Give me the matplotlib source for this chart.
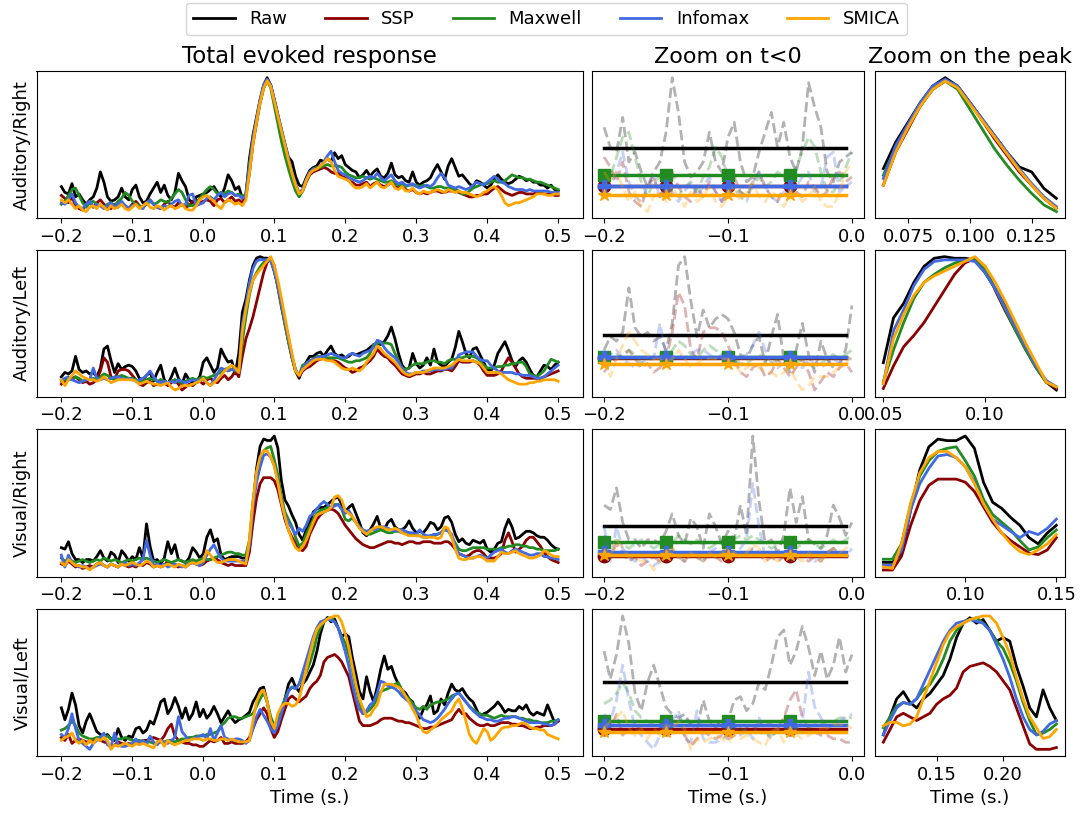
import numpy as np
import matplotlib
matplotlib.use("Agg")
import matplotlib.pyplot as plt

# ── 1. Data ───────────────────────────────────────────────
methods = ["Raw", "SSP", "Maxwell", "Infomax", "SMICA"]
colors = ["black", "darkred", "forestgreen", "royalblue", "orange"]
markers = [None, "o", "s", "P", "*"]
conditions = ["Auditory/Right", "Auditory/Left", "Visual/Right", "Visual/Left"]

T_START, T_STEP = -0.2, 0.005  # sampling of the evoked traces (s)

# Auditory/Right
ar_raw = [21,17,16,23,14,16,12,9,12,14, 20,31,24,14,11,12,14,20,14,12,
          19,22,14,10,11,16,20,24,17,22, 15,12,17,30,25,21,12,10,14,15,
          16,17,19,21,17,14,20,29,25,19, 21,13,15,40,56,68,80,90,95,90,
          80,70,60,50,41,38,28,22,21,27, 32,34,35,39,38,40,38,44,40,42,
          36,34,32,31,27,29,32,28,31,33, 28,27,30,37,29,27,28,25,24,31,
          24,22,24,25,27,32,36,31,26,35, 40,34,28,29,26,23,21,25,24,22,
          20,22,26,29,26,24,23,24,26,28, 27,25,26,24,24,22,22,20,22,19, 18]
ar_ssp = [15,13,10,14,8,6,5,9,11,7, 10,12,9,7,6,9,7,10,8,6,
          9,11,8,7,10,12,9,7,6,9, 11,8,7,10,9,7,8,11,12,10,
          11,12,11,8,12,13,10,12,14,11, 12,10,14,30,50,64,78,88,93,90,
          80,69,58,48,38,30,22,16,18,24, 29,31,32,33,34,33,31,30,30,28,
          27,25,24,22,22,23,24,21,23,24, 22,21,22,24,21,20,22,19,18,19,
          17,16,17,16,17,18,18,17,17,18, 18,18,17,16,15,14,14,15,15,16,
          16,18,20,21,19,17,16,15,16,17, 17,16,16,16,17,17,16,16,16,15, 15]
ar_maxwell = [9,11,15,19,20,15,10,7,10,11, 9,8,7,9,10,8,11,13,17,15,
              11,9,8,7,9,11,9,10,12,11, 10,13,16,19,17,12,8,8,10,13,
              16,19,21,19,16,17,16,18,17,15, 16,14,16,36,53,66,78,88,93,88,
              76,64,52,42,33,25,18,14,18,25, 30,33,34,34,35,36,35,35,35,34,
              31,29,28,27,27,28,27,26,27,26, 25,24,24,25,23,22,22,21,22,22,
              22,21,22,21,20,20,21,21,20,20, 20,19,18,16,16,18,20,21,22,23,
              23,24,25,24,24,25,27,29,28,27, 27,26,26,25,24,24,23,22,21,20, 19]
ar_infomax = [10,9,12,16,10,7,6,9,11,7, 9,8,6,8,10,7,9,11,8,6,
              8,9,7,6,10,12,9,7,6,8, 7,9,11,12,8,9,15,16,8,9,
              10,13,14,12,15,17,14,16,17,15, 15,13,15,34,54,67,80,90,94,90,
              80,70,60,50,40,31,23,17,19,26, 31,33,33,35,38,42,45,38,32,30,
              29,27,26,25,24,25,27,28,27,30, 27,25,27,29,25,23,24,22,22,23,
              21,20,21,22,21,23,27,30,27,22, 21,20,21,20,19,20,22,24,23,22,
              24,26,28,26,24,23,21,20,19,19, 19,18,19,18,18,18,18,18,17,17, 17]
ar_smica = [12,10,12,9,6,8,5,4,7,8, 6,9,7,5,8,6,7,9,6,5,
            7,9,6,8,10,7,6,8,7,5, 7,8,6,7,9,6,5,5,8,12,
            14,15,13,11,8,6,10,12,11,9, 10,8,12,30,50,65,78,88,93,89,
            79,69,59,49,39,30,22,16,18,25, 30,32,33,35,37,40,38,32,28,27,
            26,25,22,20,20,21,23,20,22,24, 21,20,22,24,20,19,21,18,18,20,
            17,16,18,17,17,18,19,18,17,19, 18,17,18,17,17,16,15,14,15,17,
            18,20,21,19,15,10,8,9,10,10, 11,12,13,14,16,16,16,15,15,16, 16]

# Auditory/Left
al_raw = [14,17,16,18,28,19,17,18,16,17, 14,20,33,35,25,17,23,19,21,22,
          21,18,13,12,15,17,11,17,22,12, 9,14,20,13,9,16,12,10,11,14,
          24,27,22,17,20,33,28,24,25,16, 30,58,67,80,90,95,96,95,95,94,
          86,76,65,52,40,28,18,13,20,24, 28,28,30,31,28,32,35,30,28,29,
          27,28,30,29,30,31,32,34,36,37, 36,38,42,48,40,30,22,19,20,30,
          23,20,22,27,22,33,24,22,21,24, 26,34,45,38,30,27,33,34,29,24,
          19,18,22,30,34,38,32,25,21,25, 27,24,19,15,14,18,22,21,19,22, 24]
al_ssp = [9,11,12,13,14,12,10,11,9,10, 12,18,27,24,14,12,18,19,19,18,
          15,12,9,8,10,11,8,9,12,10, 8,10,12,9,5,7,9,8,10,11,
          9,12,13,11,10,13,15,12,14,18, 14,28,40,47,55,65,75,85,92,95,
          90,75,62,50,38,27,18,14,18,20, 21,23,25,26,27,26,25,25,24,22,
          20,19,17,18,20,21,23,25,28,33, 30,28,27,24,22,19,16,15,14,15,
          16,16,17,16,16,17,18,18,19,19, 18,21,25,24,24,24,25,24,22,18,
          15,15,15,16,18,23,27,24,20,16, 14,13,13,13,13,13,14,15,16,17, 18]
al_maxwell = [11,12,13,12,14,13,11,12,12,13, 12,14,16,15,13,12,14,15,14,13,
              13,12,11,11,12,13,12,11,12,11, 10,11,12,11,10,11,12,13,12,13,
              14,13,14,15,16,17,19,20,19,18, 18,38,55,70,80,85,89,92,94,94,
              88,76,63,50,38,27,18,15,22,23, 25,26,28,28,28,27,27,27,27,26,
              25,24,24,25,25,26,27,30,36,37, 37,37,37,36,30,25,20,19,20,22,
              23,23,23,24,25,25,24,24,23,25, 26,26,27,27,28,28,28,27,25,22,
              20,20,20,21,21,22,22,23,23,24, 24,21,16,15,14,16,18,22,26,25, 24]
al_infomax = [12,13,14,12,11,10,11,12,12,20, 13,12,13,12,13,14,14,13,12,13,
              12,11,12,13,15,18,14,11,10,11, 10,11,10,12,11,10,11,12,11,12,
              12,10,8,12,16,20,19,18,19,19, 17,50,63,78,88,93,94,94,94,93,
              86,76,64,52,40,28,19,15,20,23, 25,26,27,28,28,29,30,29,28,27,
              27,29,30,29,28,30,31,32,34,39, 38,34,31,29,27,24,20,17,16,16,
              17,17,18,18,18,19,19,19,19,20, 20,24,29,30,31,31,31,28,26,25,
              25,22,20,18,17,17,17,17,16,16, 15,15,15,14,13,13,14,16,18,20, 22]
al_smica = [12,8,12,15,18,16,14,13,12,12, 11,12,14,12,10,11,12,12,12,12,
            12,11,9,10,11,10,9,9,8,9, 10,7,5,6,8,8,8,9,10,11,
            13,10,8,10,12,15,18,20,22,20, 17,45,60,72,80,84,87,90,93,96,
            90,80,68,55,42,30,18,15,19,21, 23,25,26,26,26,25,25,24,22,20,
            19,19,20,19,18,20,24,27,30,35, 33,30,28,26,24,21,18,16,15,16,
            17,17,17,18,19,20,20,20,20,21, 22,24,26,25,25,25,25,24,23,20,
            17,17,17,17,16,14,12,11,10,9, 9,9,10,10,11,11,12,12,12,12, 11]

# Visual/Right
vr_raw = [21,20,25,17,13,13,11,13,13,12, 15,19,14,12,18,16,11,19,16,12,
          15,13,21,14,37,22,12,13,10,14, 25,17,23,13,12,11,14,21,18,14,
          17,28,33,25,27,16,13,14,15,15, 15,14,14,20,48,74,89,94,93,93,
          96,88,66,53,49,43,38,30,26,33, 38,45,47,48,48,50,52,54,55,50,
          45,48,50,44,38,31,29,33,37,42, 34,33,38,40,35,33,33,35,39,34,
          31,32,31,34,38,37,33,35,41,42, 38,30,25,27,24,23,26,25,24,26,
          20,18,20,24,25,34,40,35,27,28, 30,32,32,31,29,28,28,26,23,21, 20]
vr_ssp = [10,9,12,10,8,9,7,8,9,8, 10,11,9,8,10,9,8,10,9,8,
          9,8,10,9,11,10,8,9,8,9, 12,10,9,8,9,8,10,11,10,9,
          10,12,13,14,13,11,10,9,10,9, 9,9,9,18,38,54,64,68,68,68,
          66,60,50,40,33,28,24,20,19,22, 30,35,40,43,45,46,47,46,44,40,
          36,33,30,27,25,23,22,21,21,22, 23,24,25,25,24,24,23,24,25,25,
          24,24,25,25,25,24,24,24,25,25, 23,20,17,16,15,16,18,19,19,17,
          14,14,14,15,17,26,31,25,18,20, 22,26,28,28,25,22,18,15,13,12, 11]
vr_maxwell = [14,12,13,12,11,12,13,12,11,12, 13,12,14,13,12,13,12,11,12,13,
              12,13,14,13,14,13,12,11,12,13, 12,11,12,13,12,11,12,13,12,13,
              14,13,13,14,15,16,17,18,18,17, 17,16,16,26,52,70,80,86,88,89,
              80,70,55,45,40,35,28,22,24,30, 35,40,44,46,47,48,48,50,50,47,
              40,39,41,38,35,32,30,30,31,32, 33,32,31,31,32,32,31,31,31,30,
              29,29,28,28,29,29,30,31,34,33, 28,24,20,19,19,20,21,21,21,21,
              20,20,20,20,21,21,22,22,23,23, 22,22,21,21,20,20,19,19,19,19, 20]
vr_infomax = [16,8,16,11,9,8,9,8,7,8, 9,10,9,8,10,9,8,10,11,9,
              10,9,11,13,26,16,9,10,9,10, 8,9,10,9,8,9,10,11,10,9,
              11,16,20,23,18,14,12,12,12,12, 12,12,12,22,48,65,75,83,84,82,
              76,66,52,42,38,34,30,34,32,36, 42,44,47,50,52,50,48,49,50,47,
              44,46,42,38,35,33,32,33,33,34, 35,35,34,33,32,33,33,32,31,31,
              30,33,30,29,29,30,30,31,33,32, 30,22,17,16,15,14,14,15,16,15,
              14,16,18,19,20,18,17,19,20,19, 18,17,16,16,17,17,15,15,14,14, 13]
vr_smica = [11,9,13,11,9,9,8,8,6,8, 10,11,9,8,10,9,8,10,9,10,
            11,10,9,10,12,11,8,9,8,9, 10,9,8,10,9,8,10,11,10,11,
            12,19,16,13,11,11,12,13,13,13, 12,11,10,26,52,72,82,86,86,82,
            76,65,52,42,33,26,21,19,22,26, 32,38,43,44,45,46,48,55,56,53,
            46,44,42,38,34,32,30,32,34,35, 35,34,33,33,34,33,31,30,29,29,
            29,29,28,28,28,28,27,28,35,34, 28,20,14,13,13,14,14,15,15,14,
            12,12,12,15,18,17,17,18,19,17, 16,15,14,14,15,16,19,18,16,15, 15]

# Visual/Left
vl_raw = [34,26,33,44,36,22,17,25,30,24, 18,16,15,16,13,12,20,14,12,15,
          14,20,21,17,19,25,23,30,38,40, 30,34,41,35,27,34,26,30,38,28,
          33,27,30,35,30,24,28,32,27,24, 26,27,29,31,38,42,47,48,38,25,
          16,20,30,40,50,54,48,45,50,53, 58,63,72,84,92,95,92,94,88,82,
          84,82,68,57,45,40,55,45,38,48, 60,69,60,62,55,50,46,44,40,38,
          30,27,33,36,42,30,32,40,36,44, 50,46,45,47,43,40,38,33,28,30,
          31,33,35,38,35,31,33,32,32,35, 33,36,31,29,31,30,29,36,30,24, 25]
vl_ssp = [14,12,16,10,12,13,12,11,11,12, 13,12,11,10,7,9,11,10,9,10,
          9,10,11,12,12,13,14,13,12,15, 20,23,15,12,11,10,10,9,9,8,
          8,10,12,11,12,14,10,10,11,10, 10,10,11,14,20,26,30,34,30,20,
          14,18,26,33,40,42,40,38,40,42, 47,50,52,56,65,68,69,70,68,65,
          60,55,45,35,25,22,22,22,23,24, 26,27,27,27,26,25,25,24,24,23,
          22,21,20,20,21,21,22,23,24,25, 26,30,33,30,30,27,25,23,22,22,
          23,22,22,23,24,24,24,23,23,22, 22,21,20,20,21,21,22,22,22,23, 25]
vl_maxwell = [19,20,22,25,22,17,15,14,13,13, 14,14,14,15,13,13,13,13,14,13,
              12,12,12,11,11,11,10,10,11,11, 12,12,11,12,13,13,14,14,15,15,
              15,16,16,17,18,22,24,27,28,28, 27,27,28,29,30,35,40,44,38,28,
              22,26,34,40,46,48,47,50,55,58, 64,72,82,88,92,94,95,92,88,82,
              78,70,60,48,38,30,31,33,36,40, 45,46,47,48,50,51,45,42,40,37,
              34,33,35,33,36,37,38,38,39,40, 42,43,44,41,38,35,33,31,30,29,
              29,28,27,28,29,28,28,28,28,27, 27,26,26,25,25,24,24,24,25,25, 26]
vl_infomax = [16,14,20,30,20,12,10,8,6,10, 12,14,17,9,8,17,9,8,8,9,
              10,13,10,12,9,15,11,9,12,11, 10,12,14,28,18,15,12,13,14,15,
              16,13,20,12,17,22,14,13,12,13, 13,12,10,12,20,28,33,29,25,20,
              17,22,30,38,45,48,47,50,58,66, 74,82,88,92,93,94,93,92,88,80,
              72,62,50,40,33,30,32,36,38,44, 52,51,49,48,47,45,42,40,38,35,
              32,29,26,25,24,25,27,30,33,37, 40,43,44,41,38,35,32,30,28,27,
              26,26,25,25,26,27,27,28,28,27, 26,25,24,24,24,24,23,23,22,23, 26]
vl_smica = [12,14,15,17,12,10,12,9,12,10, 13,12,14,12,6,9,8,9,10,9,
            8,10,9,10,9,8,7,11,12,8, 12,10,9,10,11,12,12,13,13,13,
            12,13,13,12,12,13,13,12,13,12, 11,11,11,12,25,38,44,46,38,25,
            20,30,35,37,37,35,36,40,50,60, 70,80,87,90,92,94,95,96,96,92,
            84,75,62,50,40,34,28,29,33,36, 44,50,50,50,49,48,46,42,38,33,
            29,22,18,17,19,21,23,26,28,30, 32,37,40,34,25,16,12,10,15,20,
            18,12,14,17,20,21,21,22,22,23, 24,23,21,20,20,19,19,16,15,14, 13]

evoked = [
    [ar_raw, ar_ssp, ar_maxwell, ar_infomax, ar_smica],
    [al_raw, al_ssp, al_maxwell, al_infomax, al_smica],
    [vr_raw, vr_ssp, vr_maxwell, vr_infomax, vr_smica],
    [vl_raw, vl_ssp, vl_maxwell, vl_infomax, vl_smica],
]

# window used for the "zoom on the peak" column (s)
peak_windows = [(0.065, 0.135), (0.05, 0.135), (0.055, 0.15), (0.11, 0.24)]
peak_ticks = [[0.075, 0.100, 0.125], [0.05, 0.10], [0.10, 0.15], [0.15, 0.20]]

# ── 2. Layout (pixel boxes of the panels) ─────────────────
W, H = 1080, 816
col_px = [(36.5, 583), (591.7, 864.3), (874.7, 1065)]
row_px = [(71, 218.3), (250, 396.7), (429.3, 576.7), (609.3, 756)]


def box(c, r):
    x0, x1 = col_px[c]
    y0, y1 = row_px[r]
    return [x0 / W, 1 - y1 / H, (x1 - x0) / W, (y1 - y0) / H]


plt.rcParams["font.family"] = "DejaVu Sans"
plt.rcParams["font.size"] = 13

fig = plt.figure(figsize=(W / 100, H / 100), dpi=100)

for row, series in enumerate(evoked):
    ax_all = fig.add_axes(box(0, row))
    ax_base = fig.add_axes(box(1, row))
    ax_peak = fig.add_axes(box(2, row))

    for y, name, col, mk in zip(series, methods, colors, markers):
        y = np.asarray(y, dtype=float)
        t = T_START + T_STEP * np.arange(len(y))

        # total evoked response
        ax_all.plot(t, y, color=col, lw=2, label=name)

        # baseline: faded trace + mean level
        sel = t <= 1e-9
        ax_base.plot(t[sel], y[sel], color=col, lw=2, ls="--", alpha=0.3)
        pre = t < -1e-9
        mean_lvl = np.full(pre.sum(), y[pre].mean())
        ax_base.plot(t[pre], mean_lvl, color=col, lw=2.5, marker=mk,
                     markersize=9, markevery=10)

        # peak
        a, b = peak_windows[row]
        win = (t >= a - 1e-9) & (t <= b + 1e-9)
        ax_peak.plot(t[win], y[win], color=col, lw=2)

    ax_all.set_xticks([-0.2, -0.1, 0.0, 0.1, 0.2, 0.3, 0.4, 0.5])
    ax_base.set_xticks([-0.2, -0.1, 0.0])
    ax_peak.set_xticks(peak_ticks[row])
    for ax in (ax_all, ax_base, ax_peak):
        ax.set_yticks([])
    ax_all.set_ylabel(conditions[row])

    if row == 0:
        ax_all.set_title("Total evoked response", fontsize=16.5)
        ax_base.set_title("Zoom on t<0", fontsize=16)
        ax_peak.set_title("Zoom on the peak", fontsize=16)
        handles, labels = ax_all.get_legend_handles_labels()
    if row == len(evoked) - 1:
        for ax in (ax_all, ax_base, ax_peak):
            ax.set_xlabel("Time (s.)")

fig.legend(handles, labels, loc="upper center", bbox_to_anchor=(0.506, 1.0),
           ncol=5, fontsize=13, handlelength=2.3, columnspacing=2.1,
           borderaxespad=0.15)

fig.savefig("out.png", dpi=100)
